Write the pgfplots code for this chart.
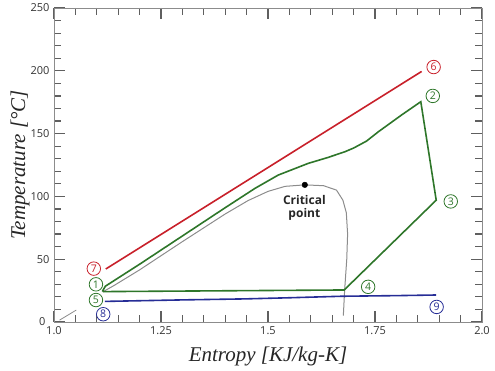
\documentclass[border=0pt]{standalone}
\usepackage{pgfplots}
\pgfplotsset{compat=1.18}
\usepackage{fontspec}
\setmainfont{Liberation Serif}
\setsansfont{Open Sans}
\usetikzlibrary{calc}
\definecolor{cred}{RGB}{200,32,42}
\definecolor{cgreen}{RGB}{46,118,42}
\definecolor{cblue}{RGB}{38,45,150}
\definecolor{cgray}{RGB}{140,140,140}
\definecolor{ctick}{RGB}{95,95,95}
\tikzset{lab/.style={circle,draw=#1,text=#1,line width=0.8pt,inner sep=0pt,minimum size=13.5pt,font=\sffamily\fontsize{10.5}{10.5}\selectfont}}
\begin{document}
\begin{tikzpicture}
\begin{axis}[
  scale only axis, width=428pt, height=314pt,
  xmin=1, xmax=2, ymin=0, ymax=250,
  xtick={1,1.25,1.5,1.75,2}, xticklabels={1.0,1.25,1.5,1.75,2.0},
  ytick={0,50,100,150,200,250}, yticklabels={0\kern4pt,50,100,150,200,250},
  minor x tick num=4, minor y tick num=4,
  tick align=inside, major tick length=11pt, minor tick length=7pt,
  every tick/.append style={draw=ctick, line width=1.2pt},
  axis line style={cgray, line width=0.8pt},
  ticklabel style={font=\sffamily\fontsize{11}{11}\selectfont, text=black!80},
  xticklabel style={yshift=-1pt},
  yticklabel style={xshift=-1pt},
  xlabel={\itshape Entropy [KJ/kg-K]},
  ylabel={\itshape Temperature [°C]},
  label style={font=\fontsize{21}{21}\selectfont, text=black!85},
  xlabel style={at={(axis description cs:0.5,-0.111)}, anchor=center},
  ylabel style={at={(axis description cs:-0.0794,0.5)}, anchor=center},
]
% saturation dome
\addplot[cgray, line width=1pt] coordinates {
(1.114,24)(1.14,29)(1.2,41.5)(1.3,64)(1.4,86)(1.453,96.6)(1.50,104)(1.54,108)(1.586,109.2)(1.63,108.5)(1.66,105)(1.675,97)(1.683,87)(1.686,70)(1.684,50)(1.679,25)(1.676,5)};
\addplot[cgray, line width=0.8pt] coordinates {(1.013,1.5)(1.052,9.5)};
% red line
\addplot[cred, line width=1.6pt] coordinates {(1.121,42.2)(1.859,199.5)};
% blue line
\addplot[cblue, line width=1.6pt] coordinates {(1.119,16.4)(1.30,17.6)(1.446,18.4)(1.55,19.3)(1.672,20.5)(1.80,21.0)(1.893,21.5)};
% green cycle
\addplot[cgreen, line width=1.6pt] coordinates {
(1.114,24.2)(1.114,25)(1.12,28.5)(1.2,46)(1.3,68.5)(1.4,91)(1.47,106.5)(1.524,117)(1.594,126.3)(1.64,131)(1.68,135.6)(1.70,138.5)(1.73,144)(1.758,151.5)(1.812,164.8)(1.857,175.4)(1.893,97)(1.678,25.5)(1.114,24.2)};
% critical point
\addplot[only marks, mark=*, mark size=2.8pt, black] coordinates {(1.586,109.2)};
\node[align=center, font=\sffamily\bfseries\fontsize{12}{13}\selectfont, text=black!85] at (axis cs:1.585,90.5) {Critical\\point};
\node[lab=cred] at (axis cs:1.887,203) {6};
\node[lab=cred] at (axis cs:1.093,42.5) {7};
\node[lab=cgreen] at (axis cs:1.885,180) {2};
\node[lab=cgreen] at (axis cs:1.927,96) {3};
\node[lab=cgreen] at (axis cs:1.734,28) {4};
\node[lab=cgreen] at (axis cs:1.098,30) {1};
\node[lab=cgreen] at (axis cs:1.098,17.5) {5};
\node[lab=cblue] at (axis cs:1.115,6.2) {8};
\node[lab=cblue] at (axis cs:1.894,12) {9};
\end{axis}
\pgfresetboundingbox
\path ($(current axis.south west)+(-54pt,-48pt)$) rectangle ($(current axis.north east)+(13pt,8pt)$);
\end{tikzpicture}
\end{document}
